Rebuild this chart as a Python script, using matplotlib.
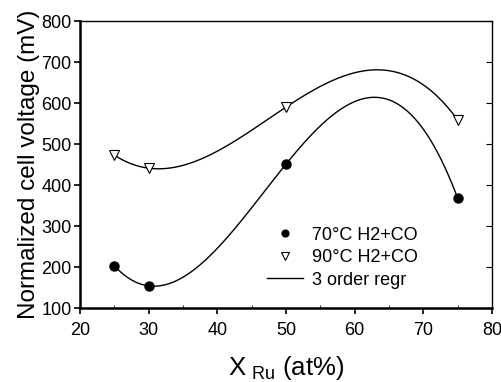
import numpy as np
import matplotlib
matplotlib.use("Agg")
import matplotlib.pyplot as plt
from matplotlib.ticker import MultipleLocator

plt.rcParams['font.family'] = ['Liberation Sans', 'DejaVu Sans']
plt.rcParams['mathtext.fontset'] = 'custom'
plt.rcParams['mathtext.rm'] = 'Liberation Sans'

x_ru = [25, 30, 50, 75]
v70 = [203, 154, 451, 368]
v90 = [473, 441, 590, 559]

fig = plt.figure(figsize=(5.02, 3.82), dpi=100)
ax = fig.add_axes([0.1594, 0.1937, 0.8206, 0.7513])

xf = np.linspace(min(x_ru), max(x_ru), 300)
for yv in (v70, v90):
    c = np.polyfit(x_ru, yv, 3)
    ax.plot(xf, np.polyval(c, xf), color='black', lw=1.0, zorder=2)

ax.plot(x_ru, v70, 'o', color='black', ms=6.5, ls='none', zorder=3, label='70°C H2+CO')
ax.plot(x_ru, v90, 'v', mfc='white', mec='black', mew=0.8, ms=7, ls='none', zorder=3, label='90°C H2+CO')
ax.plot([], [], color='black', lw=1.0, label='3 order regr')

ax.set_xlim(20, 80)
ax.set_ylim(100, 800)
ax.xaxis.set_major_locator(MultipleLocator(10))
ax.xaxis.set_minor_locator(MultipleLocator(5))
ax.yaxis.set_major_locator(MultipleLocator(100))

ax.tick_params(axis='both', which='major', direction='out', length=4, width=1.2, labelsize=13)
ax.tick_params(axis='x', which='minor', direction='in', length=2, width=0.6)
ax.tick_params(axis='x', which='major', pad=6)
ax.tick_params(axis='y', which='major', right=True, labelright=False, pad=2)

for s in ('left', 'bottom'):
    ax.spines[s].set_linewidth(1.8)
for s in ('top', 'right'):
    ax.spines[s].set_linewidth(1.0)

# right ticks inward
for t in ax.yaxis.get_major_ticks():
    t.tick2line.set_marker(matplotlib.lines.TICKLEFT)
    t.tick2line.set_markersize(4)
    t.tick2line.set_markeredgewidth(0.8)

ax.set_ylabel('Normalized cell voltage (mV)', fontsize=17.5, labelpad=1)
ax.set_xlabel(r'X$_{\ \mathrm{Ru}}$ (at%)', fontsize=18.5, labelpad=11)

leg = ax.legend(loc='upper left', bbox_to_anchor=(0.415, 0.34), frameon=False,
                fontsize=13, handlelength=2.0, handletextpad=0.5, labelspacing=0.3,
                markerscale=0.75)

fig.savefig('out.png', dpi=100)
